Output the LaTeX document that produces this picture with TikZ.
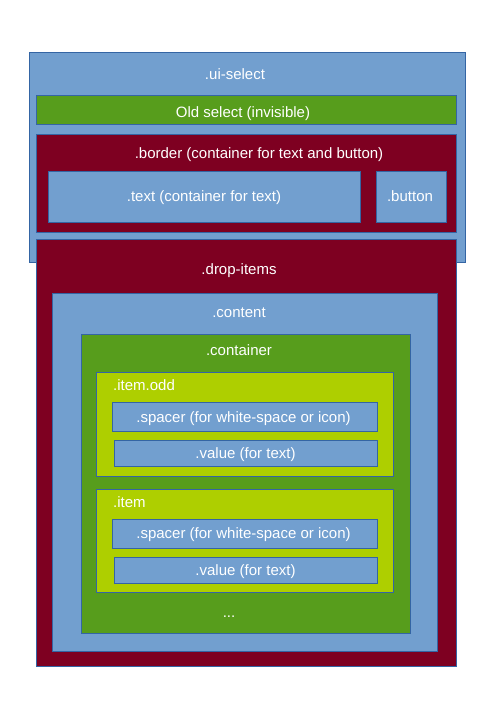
\documentclass[tikz,border=0pt]{standalone}
\usepackage{fontspec}
\setmainfont{Liberation Sans}
\definecolor{cblue}{HTML}{729FCF}
\definecolor{cline}{HTML}{3465A4}
\definecolor{cred}{HTML}{7E0021}
\definecolor{cgreen}{HTML}{579D1C}
\definecolor{clime}{HTML}{AECF00}
\tikzset{
  boxst/.style={draw=cline, line width=0.9pt, rectangle, inner sep=0pt, outer sep=0pt},
  lbl/.style={text=white, inner sep=0pt, anchor=base, font=\fontsize{15}{18}\selectfont},
  lblw/.style={lbl, anchor=base west}
}
\begin{document}
\begin{tikzpicture}[x=1pt,y=-1pt]
\useasboundingbox (0,0) rectangle (500,707);
% ui-select
\node[boxst, fill=cblue, minimum width=436pt, minimum height=210pt] (uiselect) at (247,157) {};
\node[lbl] (uiselectL) at (235,79) {.ui-select};
\node[boxst, fill=cgreen, minimum width=420pt, minimum height=29pt] (oldsel) at (246,109.5) {};
\node[lbl] (oldselL) at (243,117) {Old select (invisible)};
\node[boxst, fill=cred, minimum width=420pt, minimum height=98pt] (border) at (246,183) {};
\node[lbl] (borderL) at (259,158.5) {.border (container for text and button)};
\node[boxst, fill=cblue, minimum width=312pt, minimum height=51pt] (textbox) at (204,196.5) {};
\node[lbl] (textboxL) at (204,201) {.text (container for text)};
\node[boxst, fill=cblue, minimum width=70pt, minimum height=51pt] (button) at (411,196.5) {};
\node[lbl] (buttonL) at (410,201) {.button};
% drop-items
\node[boxst, fill=cred, minimum width=420pt, minimum height=427pt] (drop) at (246,452.5) {};
\node[lbl] (dropL) at (239,274.5) {.drop-items};
\node[boxst, fill=cblue, minimum width=385pt, minimum height=358pt] (content) at (244.5,472) {};
\node[lbl] (contentL) at (239,317) {.content};
\node[boxst, fill=cgreen, minimum width=329pt, minimum height=299pt] (container) at (245.5,483.5) {};
\node[lbl] (containerL) at (239,355.5) {.container};
% item odd
\node[boxst, fill=clime, minimum width=297pt, minimum height=104pt] (itemodd) at (244.5,424) {};
\node[lblw] (itemoddL) at (113,390.5) {.item.odd};
\node[boxst, fill=cblue, minimum width=265pt, minimum height=29pt] (spacerA) at (244.5,416.5) {};
\node[lbl] (spacerAL) at (243.5,422) {.spacer (for white-space or icon)};
\node[boxst, fill=cblue, minimum width=263pt, minimum height=26pt] (valueA) at (245.5,453) {};
\node[lbl] (valueAL) at (245.5,458) {.value (for text)};
% item
\node[boxst, fill=clime, minimum width=297pt, minimum height=103pt] (item) at (244.5,540.5) {};
\node[lblw] (itemL) at (113,507.5) {.item};
\node[boxst, fill=cblue, minimum width=265pt, minimum height=29pt] (spacerB) at (244.5,533.5) {};
\node[lbl] (spacerBL) at (243.5,538.5) {.spacer (for white-space or icon)};
\node[boxst, fill=cblue, minimum width=263pt, minimum height=26pt] (valueB) at (245.5,570) {};
\node[lbl] (valueBL) at (245.5,575.5) {.value (for text)};
\node[lbl] (dots) at (229,617) {...};
\end{tikzpicture}
\end{document}
